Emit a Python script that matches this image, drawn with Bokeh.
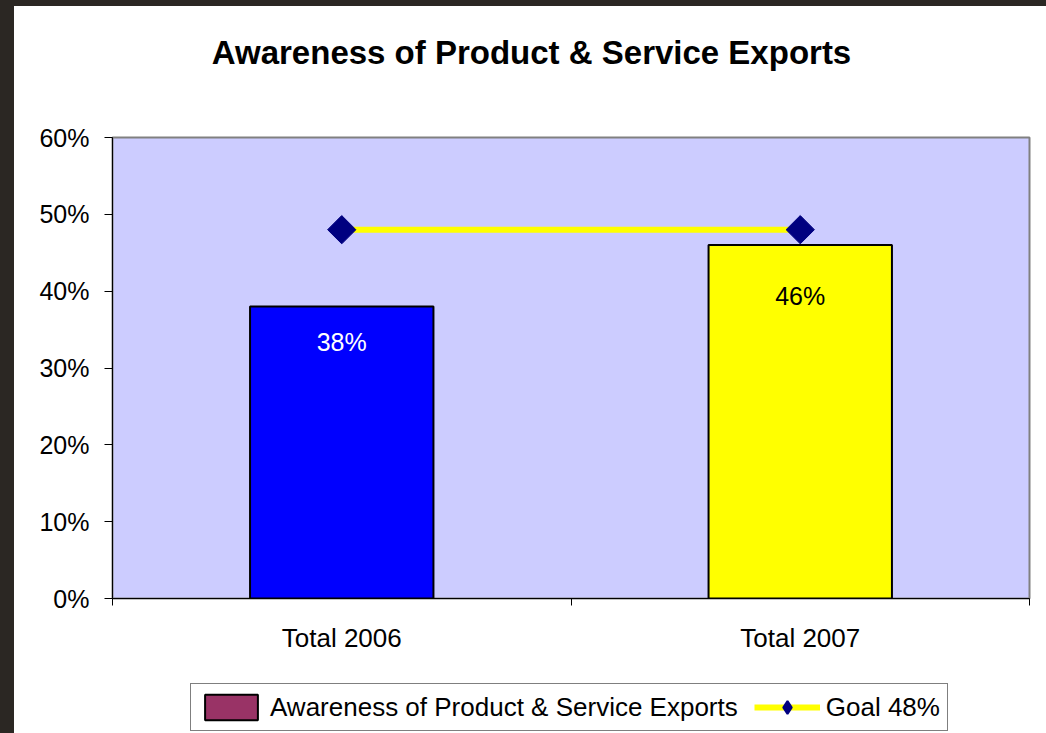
from bokeh.plotting import figure
from bokeh.models import (Range1d, FixedTicker, NumeralTickFormatter, LinearAxis, Label,
                          LabelSet, Legend, LegendItem, ColumnDataSource)
from bokeh.core.properties import value
from bokeh.layouts import column
from bokeh.embed import file_html
from bokeh.resources import INLINE

# ---- data ----
categories = ["Total 2006", "Total 2007"]
awareness = [0.38, 0.46]
goal = [0.48, 0.48]
bar_colors = ["#0000ff", "#ffff00"]
label_colors = ["#ffffff", "#000000"]
label_dy = [-35, -51]
y_ticks = [0, 0.1, 0.2, 0.3, 0.4, 0.5, 0.6]
series_names = ["Awareness of Product & Service Exports", "Goal 48%"]
title_text = "Awareness of Product & Service Exports"

FONT = "Liberation Sans"
W = 1032
ML, MR = 98, 17
NAN = float("nan")


def strip(height):
    f = figure(width=W, height=height, x_range=Range1d(0, 1), y_range=Range1d(0, 1),
               output_backend="svg", toolbar_location=None,
               x_axis_location=None, y_axis_location=None,
               min_border_left=ML, min_border_right=MR,
               min_border_top=0, min_border_bottom=0,
               background_fill_color="white", border_fill_color="white",
               outline_line_color=None)
    f.grid.visible = False
    return f


xs = [i + 0.5 for i in range(len(categories))]
bounds = list(range(len(categories) + 1))

# ---- title strip ----
tf = strip(80)
tf.add_layout(Label(x=419, y=34, x_units="screen", y_units="screen", text=title_text,
                    text_align="center", text_baseline="middle", text_font_size="33px",
                    text_font_style="bold", text_font=FONT, text_color="black"))

# ---- main chart ----
p = figure(width=W, height=592,
           x_range=Range1d(0, len(categories)), y_range=Range1d(0, 0.6),
           output_backend="svg", toolbar_location=None,
           x_axis_location=None, y_axis_location=None,
           min_border_left=ML, min_border_right=MR,
           min_border_top=51, min_border_bottom=80,
           background_fill_color="#ccccff", border_fill_color="white")
p.grid.visible = False
p.outline_line_color = "#808080"
p.outline_line_width = 2

yaxis = LinearAxis(ticker=FixedTicker(ticks=y_ticks, minor_ticks=[]),
                   formatter=NumeralTickFormatter(format="0%"),
                   major_tick_out=8, major_tick_in=0, minor_tick_out=0, minor_tick_in=0,
                   axis_line_color="black", axis_line_width=1,
                   major_label_text_font_size="25px", major_label_text_font=FONT,
                   major_label_text_color="black", major_label_standoff=15)
p.add_layout(yaxis, "left")

xaxis = LinearAxis(ticker=FixedTicker(ticks=xs, minor_ticks=bounds),
                   major_label_overrides={x: c for x, c in zip(xs, categories)},
                   major_tick_out=0, major_tick_in=0, minor_tick_out=7, minor_tick_in=0,
                   axis_line_color="black", axis_line_width=1,
                   major_label_text_font_size="26px", major_label_text_font=FONT,
                   major_label_text_color="black", major_label_standoff=17)
p.add_layout(xaxis, "below")

src = ColumnDataSource(dict(x=xs, top=awareness, color=bar_colors,
                            text=[f"{round(v * 100)}%" for v in awareness],
                            tcolor=label_colors, dy=label_dy))
p.vbar(x="x", top="top", width=0.4, fill_color="color", line_color="black",
       line_width=2, source=src)

labels = LabelSet(x="x", y="top", text="text", text_color="tcolor", source=src,
                  y_offset="dy", text_align="center", text_baseline="middle",
                  text_font_size=value("25px"), text_font=value(FONT))
p.add_layout(labels)

p.line(xs, goal, line_color="#ffff00", line_width=6)
p.scatter(xs, goal, marker="square", angle=0.7854, size=20,
          fill_color="#000080", line_color="#000080")

# ---- legend strip ----
lf = strip(55)
# proxy renderers (no drawable data) used only for the legend swatches
leg_bar = lf.vbar(x=[NAN], top=[NAN], width=0.4, fill_color="#993366",
                  line_color="black", line_width=2)
leg_line = lf.line(x=[NAN], y=[NAN], line_color="#ffff00", line_width=6)
leg_pts = lf.scatter(x=[NAN], y=[NAN], marker="diamond", size=20,
                     fill_color="#000080", line_color="#000080", line_width=2)

legend = Legend(items=[LegendItem(label=series_names[0], renderers=[leg_bar]),
                       LegendItem(label=series_names[1], renderers=[leg_line, leg_pts])],
                orientation="horizontal", location=(78, 2),
                border_line_color="black", border_line_width=1,
                background_fill_color="white", background_fill_alpha=1,
                padding=7, spacing=16, glyph_width=66, glyph_height=32,
                label_standoff=6, label_text_font_size="26px", label_text_font=FONT,
                label_text_color="black", margin=0)
lf.add_layout(legend, "center")

inner = column(tf, p, lf, spacing=0, margin=(6, 0, 0, 14),
               styles={"background-color": "white"})
layout = column(inner, width=1046, height=733, spacing=0,
                styles={"background-color": "#2b2723"})

open("out.html", "w").write(file_html(layout, INLINE))
